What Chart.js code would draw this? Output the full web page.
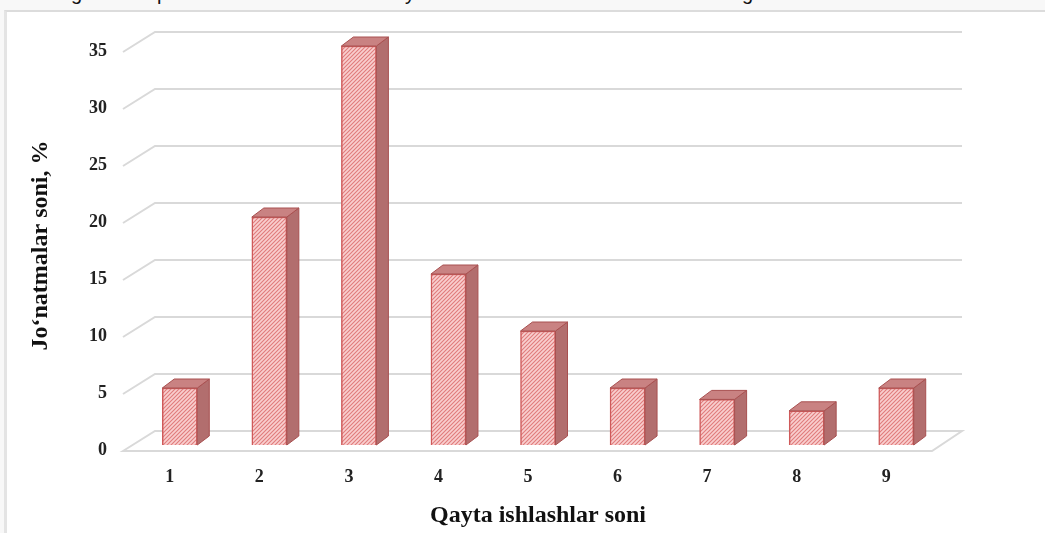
<!DOCTYPE html>
<html>
<head>
<meta charset="utf-8">
<script src="https://cdn.jsdelivr.net/npm/chart.js@4"></script>
<style>
  html, body { margin: 0; padding: 0; background: #f8f8f8; overflow: hidden; }
  #frame { position: absolute; left: 4px; top: 10px; width: 1041px; height: 523px; background: #fff;
           border-left: 3px solid #e4e4e4; border-top: 2px solid #dcdcdc; }
  .cut { position: absolute; top: -17px; font: 20px "Liberation Sans", Arial, sans-serif; line-height: 20px; color: #111; }
  #wrap { position: absolute; left: 0; top: 0; width: 1045px; height: 533px; }
</style>
</head>
<body>
<span class="cut" style="left:71px">g</span>
<span class="cut" style="left:157px">p</span>
<span class="cut" style="left:405px">y</span>
<span class="cut" style="left:742px">g</span>
<div id="frame"></div>
<div id="wrap"><canvas id="chart"></canvas></div>
<script>
const categories = ['1', '2', '3', '4', '5', '6', '7', '8', '9']
const shares = [5, 20, 35, 15, 10, 5, 4, 3, 5]
const yTicks = [0, 5, 10, 15, 20, 25, 30, 35]

const DX = 12, DY = -9

function hatch() {
    const c = document.createElement('canvas')
    c.width = 4; c.height = 4
    const g = c.getContext('2d')
    g.fillStyle = '#f9cfcf'
    g.fillRect(0, 0, 4, 4)
    g.strokeStyle = '#e07c7c'
    g.lineWidth = 1.1
    g.beginPath()
    g.moveTo(-1, 5); g.lineTo(5, -1)
    g.moveTo(-1, 1); g.lineTo(1, -1)
    g.moveTo(3, 5); g.lineTo(5, 3)
    g.stroke()
    return g.createPattern(c, 'repeat')
}

const ctx = document.getElementById('chart').getContext('2d')

const walls = {
    id: 'walls',
    beforeDatasetsDraw(chart) {
        const { ctx, scales: { y } } = chart
        ctx.save()
        ctx.strokeStyle = '#d9d9d9'
        ctx.lineWidth = 2
        yTicks.forEach(v => {
            if (v === 0) return
            const p = y.getPixelForValue(v)
            ctx.beginPath()
            ctx.moveTo(123, p + 6)
            ctx.lineTo(155, p - 14)
            ctx.lineTo(962, p - 14)
            ctx.stroke()
        })
        // floor
        const p0 = y.getPixelForValue(0)
        ctx.beginPath()
        ctx.moveTo(123, p0 + 6)
        ctx.lineTo(155, p0 - 14)
        ctx.lineTo(962, p0 - 14)
        ctx.lineTo(932, p0 + 6)
        ctx.closePath()
        ctx.stroke()
        ctx.restore()
    },
    afterDatasetsDraw(chart) {
        const { ctx } = chart
        const meta = chart.getDatasetMeta(0)
        ctx.save()
        ctx.strokeStyle = '#a85050'
        ctx.lineWidth = 1
        meta.data.forEach(bar => {
            const l = bar.x - bar.width / 2, r = bar.x + bar.width / 2
            const t = bar.y, b = bar.base
            ctx.fillStyle = '#b26e6e'
            ctx.beginPath()
            ctx.moveTo(r, t); ctx.lineTo(r + DX, t + DY); ctx.lineTo(r + DX, b + DY); ctx.lineTo(r, b)
            ctx.closePath(); ctx.fill(); ctx.stroke()
            ctx.fillStyle = '#c98282'
            ctx.beginPath()
            ctx.moveTo(l, t); ctx.lineTo(l + DX, t + DY); ctx.lineTo(r + DX, t + DY); ctx.lineTo(r, t)
            ctx.closePath(); ctx.fill(); ctx.stroke()
        })
        ctx.restore()
    }
}

const serif = '"Liberation Serif", "Times New Roman", serif'

new Chart(ctx, {
    type: 'bar',
    data: {
        labels: categories,
        datasets: [{
            data: shares,
            backgroundColor: hatch(),
            borderColor: '#cf5a5a',
            borderWidth: 1.5,
            barThickness: 35,
        }]
    },
    plugins: [walls],
    options: {
        responsive: true,
        maintainAspectRatio: false,
        animation: false,
        layout: { padding: { top: 46, right: 104, left: 0, bottom: 0 } },
        scales: {
            x: {
                grid: { display: false, drawTicks: false },
                border: { display: false },
                ticks: { color: '#222', font: { family: serif, size: 18, weight: 'bold' }, padding: 22, labelOffset: -10 },
                title: { display: true, text: 'Qayta ishlashlar soni', color: '#111',
                         font: { family: serif, size: 24, weight: 'bold' }, padding: { top: 0, bottom: 3 } },
                afterFit(scale) { scale.height = 88 }
            },
            y: {
                min: 0, max: 35,
                grid: { display: false, drawTicks: false },
                border: { display: false },
                ticks: { stepSize: 5, color: '#222', font: { family: serif, size: 18, weight: 'bold' }, padding: 28, labelOffset: 5 },
                title: { display: true, text: 'Jo‘natmalar soni, %', color: '#111',
                         font: { family: serif, size: 24, weight: 'bold' }, padding: { top: 26, bottom: 0 } },
                afterFit(scale) { scale.width = 135 }
            }
        },
        plugins: {
            legend: { display: false },
            tooltip: { enabled: false }
        }
    }
})
</script>
</body>
</html>
